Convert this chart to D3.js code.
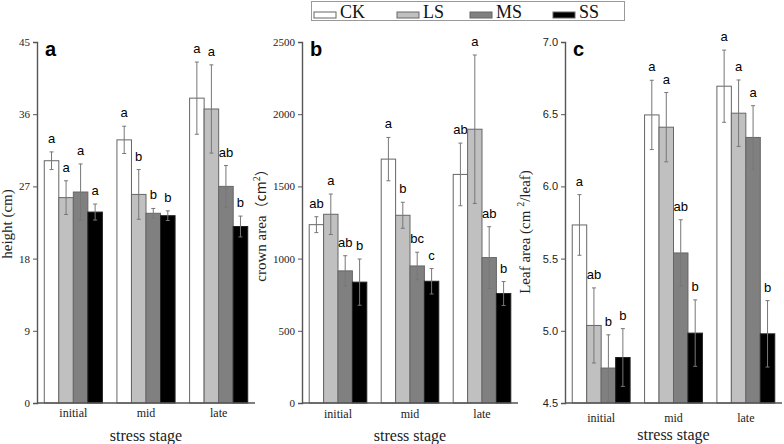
<!DOCTYPE html>
<html><head><meta charset="utf-8">
<script src="https://cdn.jsdelivr.net/npm/d3@7"></script>
<style>body{margin:0;background:#fff}svg{display:block}</style>
</head><body>
<svg id="chart" width="784" height="444"></svg>
<script>
const stages = ["initial","mid","late"];
const treatments = ["CK","LS","MS","SS"];
const colors = ["#ffffff","#c0c0c0","#808080","#000000"];

const heightMean = [[30.2,25.6,26.3,23.8],[32.8,26.0,23.65,23.35],[38.0,36.65,27.0,22.0]];
const heightErr  = [[1.1,2.1,3.5,1.0],[1.7,3.1,0.6,0.6],[4.5,5.5,2.6,1.3]];
const heightLetters = [["a","a","a","a"],["a","b","b","b"],["a","a","ab","b"]];
const heightTicks = [0,9,18,27,36,45];

const crownMean = [[1235,1307,915,837],[1689,1300,949,843],[1583,1896,1007,758]];
const crownErr  = [[55,140,105,160],[150,90,95,88],[217,514,214,83]];
const crownLetters = [["ab","a","ab","b"],["a","b","bc","c"],["ab","a","ab","b"]];
const crownTicks = [0,500,1000,1500,2000,2500];

const leafMean = [[5.733,5.037,4.742,4.815],[6.495,6.41,5.539,4.984],[6.694,6.507,6.339,4.979]];
const leafErr  = [[0.21,0.26,0.23,0.2],[0.24,0.24,0.23,0.23],[0.25,0.23,0.22,0.23]];
const leafLetters = [["a","ab","b","b"],["a","a","ab","b"],["a","a","a","b"]];
const leafTicks = [4.5,5.0,5.5,6.0,6.5,7.0];

const svg = d3.select("#chart");
const serif = "'Liberation Serif','Times New Roman',serif";
const sans = "'Liberation Sans',Arial,sans-serif";
const axisColor = "#555";

const panels = [
  {x0:37, x1:255, mean:heightMean, err:heightErr, letters:heightLetters, ticks:heightTicks, domain:[0,45], fmt:d3.format("d"), tickFont:serif, label:"a", xTickY:417, xTitleY:441, ylabelX:12, ylabelY:224},
  {x0:302, x1:518, mean:crownMean, err:crownErr, letters:crownLetters, ticks:crownTicks, domain:[0,2500], fmt:d3.format("d"), tickFont:serif, label:"b", xTickY:418, xTitleY:441, ylabelX:266, ylabelY:222},
  {x0:565, x1:782, mean:leafMean, err:leafErr, letters:leafLetters, ticks:leafTicks, domain:[4.5,7.0], fmt:d3.format(".1f"), tickFont:sans, label:"c", xTickY:422, xTitleY:440, ylabelX:530, ylabelY:232}
];
const yTop = 42, yBot = 403;

panels.forEach((p, pi) => {
  const g = svg.append("g");
  const y = d3.scaleLinear().domain(p.domain).range([yBot, yTop]);
  const x0 = d3.scaleBand().domain(stages).range([p.x0, p.x1]).paddingInner(0.2).paddingOuter(0.1);
  const x1 = d3.scaleBand().domain(treatments).range([0, x0.bandwidth()]);

  // bars
  stages.forEach((s, si) => {
    const grp = g.append("g").attr("transform", `translate(${x0(s)},0)`);
    treatments.forEach((t, ti) => {
      const v = p.mean[si][ti], e = p.err[si][ti];
      const bx = x1(t), bw = x1.bandwidth();
      grp.append("rect").attr("x", bx).attr("y", y(v)).attr("width", bw).attr("height", yBot - y(v))
        .attr("fill", colors[ti]).attr("stroke", ti === 3 ? "#222" : "#666").attr("stroke-width", 1);
      const cx = bx + bw / 2;
      const eTop = y(v + e), eBot = y(v - e);
      grp.append("line").attr("x1", cx).attr("x2", cx).attr("y1", eTop).attr("y2", eBot)
        .attr("stroke", "#777").attr("stroke-width", 1);
      [eTop, eBot].forEach(yy => grp.append("line").attr("x1", cx - 2).attr("x2", cx + 2)
        .attr("y1", yy).attr("y2", yy).attr("stroke", "#777").attr("stroke-width", 1));
      grp.append("text").attr("x", cx).attr("y", eTop - 9).attr("text-anchor", "middle")
        .attr("font-family", sans).attr("font-size", 13).attr("fill", "#000").text(p.letters[si][ti]);
    });
  });

  // y axis
  const yAxis = d3.axisLeft(y).tickValues(p.ticks).tickFormat(p.fmt).tickSize(4).tickPadding(3);
  const ya = g.append("g").attr("transform", `translate(${p.x0},0)`).call(yAxis);
  ya.select(".domain").attr("stroke", axisColor).attr("stroke-width", 1.4);
  ya.selectAll(".tick line").attr("stroke", axisColor);
  ya.selectAll("text").attr("font-family", p.tickFont).attr("font-size", 11).attr("fill", "#222");

  // x axis line
  g.append("line").attr("x1", p.x0).attr("x2", p.x1).attr("y1", yBot).attr("y2", yBot)
    .attr("stroke", axisColor).attr("stroke-width", 1.4);
  stages.forEach(s => {
    g.append("text").attr("x", x0(s) + x0.bandwidth() / 2).attr("y", p.xTickY).attr("text-anchor", "middle")
      .attr("font-family", serif).attr("font-size", 12).attr("fill", "#222").text(s);
  });
  g.append("text").attr("x", (p.x0 + p.x1) / 2).attr("y", p.xTitleY).attr("text-anchor", "middle")
    .attr("font-family", serif).attr("font-size", 16).attr("fill", "#222").text("stress stage");

  // panel label
  g.append("text").attr("x", p.x0 + 8).attr("y", 56).attr("font-family", sans).attr("font-weight", "bold")
    .attr("font-size", 20).attr("fill", "#000").text(p.label);

  // y label
  const yl = g.append("text").attr("transform", `translate(${p.ylabelX},${p.ylabelY}) rotate(-90)`)
    .attr("text-anchor", "middle").attr("font-family", serif).attr("font-size", 15).attr("fill", "#222");
  if (pi === 0) {
    yl.text("height (cm)");
  } else if (pi === 1) {
    yl.append("tspan").text("crown area");
    yl.append("tspan").attr("font-family", "'Noto Sans CJK SC'," + serif).attr("font-size", 14).text("（cm");
    yl.append("tspan").attr("font-size", 10).attr("dy", -6).text("2");
    yl.append("tspan").attr("dy", 6).attr("font-family", "'Noto Sans CJK SC'," + serif).attr("font-size", 14).text("）");
  } else {
    yl.append("tspan").text("Leaf area (cm ");
    yl.append("tspan").attr("font-size", 10).attr("dy", -6).text("2");
    yl.append("tspan").attr("dy", 6).text("/leaf)");
  }
});

// legend
const lg = svg.append("g");
lg.append("rect").attr("x", 311.5).attr("y", 1.5).attr("width", 313).attr("height", 19)
  .attr("fill", "#fff").attr("stroke", "#999").attr("stroke-width", 1);
const legX = [314, 397, 470, 553];
treatments.forEach((t, i) => {
  lg.append("rect").attr("x", legX[i]).attr("y", 12).attr("width", 22).attr("height", 6)
    .attr("fill", colors[i]).attr("stroke", "#666").attr("stroke-width", 1);
  lg.append("text").attr("x", legX[i] + 26).attr("y", 18).attr("font-family", serif).attr("font-size", 18)
    .attr("fill", "#111").text(t);
});
</script>
</body></html>
